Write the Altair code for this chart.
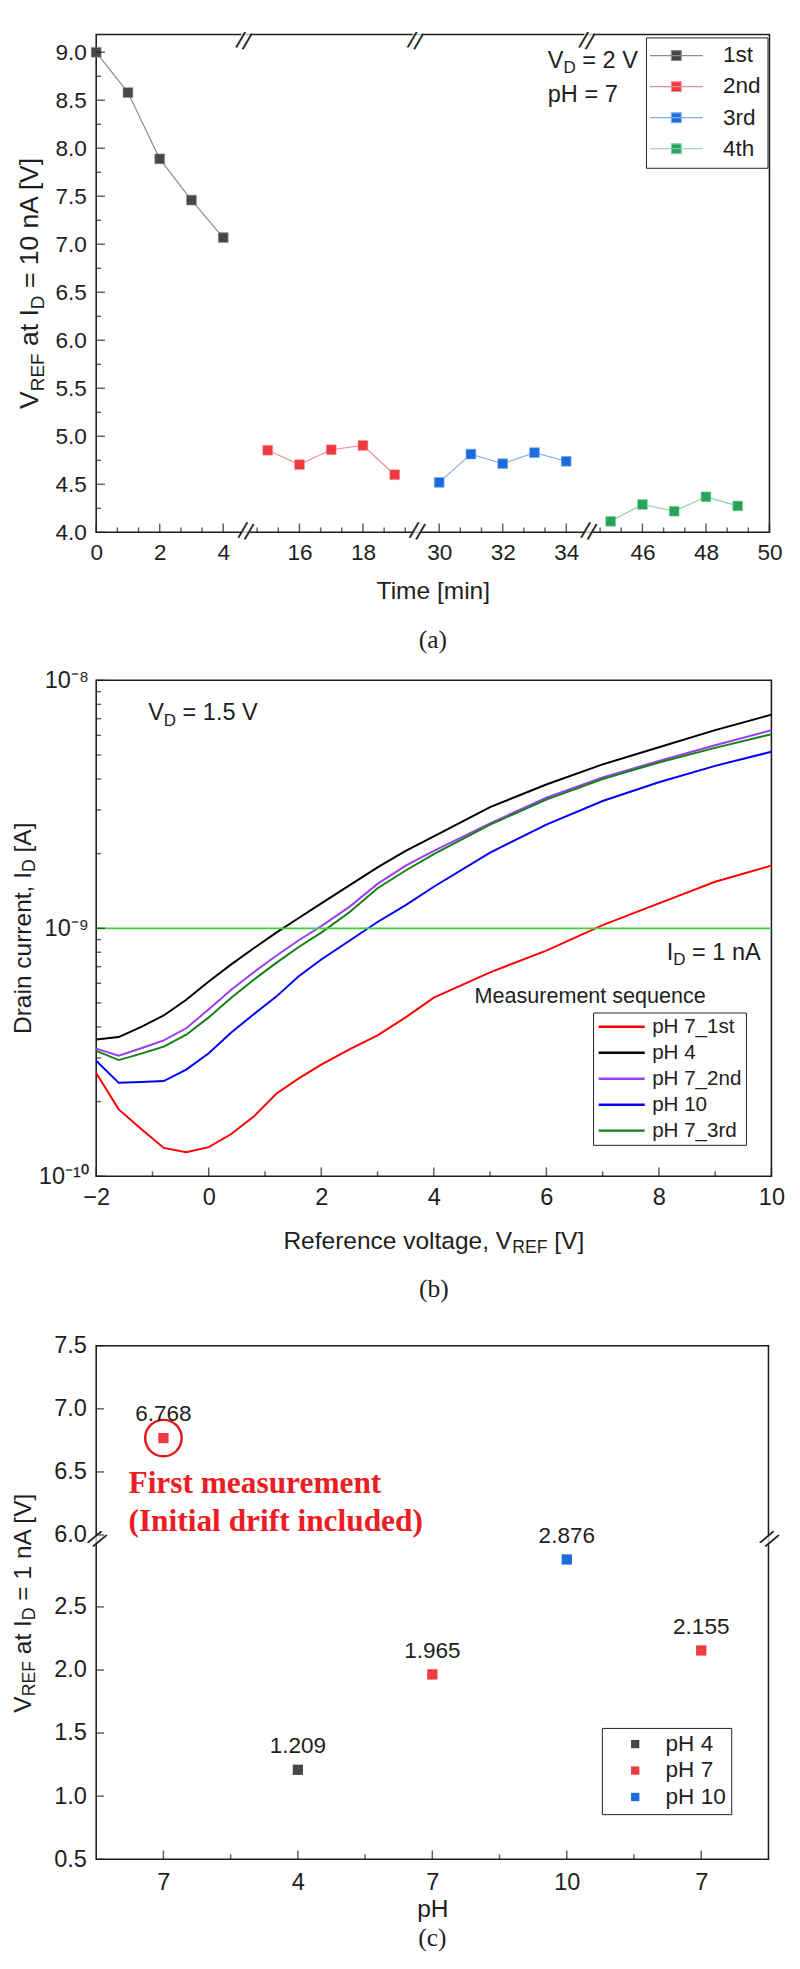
import altair as alt
import pandas as pd

SANS = "Liberation Sans"
SERIF = "Liberation Serif"
INK = "#1e1e1e"

# ================= (a) V_REF at 10 nA vs time =================
A_RUNS = ["1st", "2nd", "3rd", "4th"]
A_T_1ST = [0, 1, 2, 3, 4]
A_V_1ST = [9.00, 8.58, 7.89, 7.46, 7.07]
A_T_2ND = [15, 16, 17, 18, 19]
A_V_2ND = [4.855, 4.705, 4.86, 4.905, 4.60]
A_T_3RD = [30, 31, 32, 33, 34]
A_V_3RD = [4.52, 4.815, 4.715, 4.83, 4.74]
A_T_4TH = [45, 46, 47, 48, 49]
A_V_4TH = [4.115, 4.29, 4.22, 4.37, 4.275]
A_MARKER_COLORS = ["#474747", "#ee383d", "#1c6bdc", "#27a45c"]
A_LINE_COLORS = ["#8c8c8c", "#f08f92", "#82abeb", "#8acfa6"]
A_SEG_START = [0.0, 14.3, 29.3, 44.3]
A_SEG_END = [4.7, 19.7, 34.7, 50.0]
A_X_MAJOR = [0, 2, 4, 16, 18, 30, 32, 34, 46, 48, 50]
A_X_MINOR = [0.667, 1.333, 2.667, 3.333, 14.667, 15.333, 16.667, 17.333,
             18.667, 19.333, 30.667, 31.333, 32.667, 33.333, 44.667, 45.333,
             46.667, 47.333, 48.667, 49.333]
A_Y_MAJOR = [4.0, 4.5, 5.0, 5.5, 6.0, 6.5, 7.0, 7.5, 8.0, 8.5, 9.0]
A_Y_MINOR = [4.25, 4.75, 5.25, 5.75, 6.25, 6.75, 7.25, 7.75, 8.25, 8.75]
A_Y_DOMAIN = [4.0, 9.185]

# ================= (b) transfer curves =================
B_SERIES = ["pH 7_1st", "pH 4", "pH 7_2nd", "pH 10", "pH 7_3rd"]
B_COLORS = ["#ff0000", "#000000", "#9b3df2", "#0000ff", "#128012"]
B_V = [-2, -1.6, -1.2, -0.8, -0.4, 0, 0.4, 0.8, 1.2, 1.6, 2, 2.5, 3, 3.5, 4,
       5, 6, 7, 8, 9, 10]
B_PH7_1ST = [2.61e-10, 1.86e-10, 1.55e-10, 1.30e-10, 1.25e-10, 1.31e-10,
             1.48e-10, 1.74e-10, 2.15e-10, 2.48e-10, 2.82e-10, 3.25e-10,
             3.70e-10, 4.37e-10, 5.25e-10, 6.64e-10, 8.13e-10, 1.03e-9,
             1.26e-9, 1.54e-9, 1.79e-9]
B_PH4 = [3.56e-10, 3.64e-10, 4.00e-10, 4.45e-10, 5.15e-10, 6.10e-10,
         7.15e-10, 8.30e-10, 9.60e-10, 1.10e-9, 1.26e-9, 1.49e-9, 1.76e-9,
         2.05e-9, 2.35e-9, 3.08e-9, 3.80e-9, 4.58e-9, 5.37e-9, 6.30e-9,
         7.27e-9]
B_PH7_2ND = [3.27e-10, 3.06e-10, 3.28e-10, 3.53e-10, 3.95e-10, 4.71e-10,
             5.65e-10, 6.65e-10, 7.75e-10, 8.95e-10, 1.02e-9, 1.22e-9,
             1.51e-9, 1.79e-9, 2.05e-9, 2.65e-9, 3.36e-9, 4.06e-9, 4.73e-9,
             5.47e-9, 6.29e-9]
B_PH10 = [2.92e-10, 2.38e-10, 2.40e-10, 2.42e-10, 2.69e-10, 3.13e-10,
          3.80e-10, 4.50e-10, 5.30e-10, 6.40e-10, 7.48e-10, 8.90e-10,
          1.06e-9, 1.24e-9, 1.47e-9, 2.02e-9, 2.62e-9, 3.26e-9, 3.88e-9,
          4.52e-9, 5.15e-9]
B_PH7_3RD = [3.20e-10, 2.94e-10, 3.12e-10, 3.33e-10, 3.72e-10, 4.37e-10,
             5.25e-10, 6.20e-10, 7.25e-10, 8.40e-10, 9.60e-10, 1.16e-9,
             1.45e-9, 1.71e-9, 1.99e-9, 2.62e-9, 3.30e-9, 4.00e-9, 4.66e-9,
             5.34e-9, 6.06e-9]
B_TARGET = 1e-9
B_X_DOMAIN = [-2, 10]
B_Y_DOMAIN = [1e-10, 1e-8]
B_X_MAJOR = [-2, 0, 2, 4, 6, 8, 10]
B_X_MINOR = [-1, 1, 3, 5, 7, 9]
B_Y_MAJOR = [1e-10, 1e-9, 1e-8]
B_Y_LABELS = ["10\u207b\u00b9\u2070", "10\u207b\u2079", "10\u207b\u2078"]
B_Y_MINOR = [2e-10, 3e-10, 4e-10, 5e-10, 6e-10, 7e-10, 8e-10, 9e-10,
             2e-9, 3e-9, 4e-9, 5e-9, 6e-9, 7e-9, 8e-9, 9e-9]

# ================= (c) V_REF at 1 nA per pH step =================
C_SEQ = [1, 2, 3, 4, 5]
C_PH_LABEL = ["7", "4", "7", "10", "7"]
C_GROUP = ["pH 7", "pH 4", "pH 7", "pH 10", "pH 7"]
C_VREF = [6.768, 1.209, 1.965, 2.876, 2.155]
C_GROUPS = ["pH 4", "pH 7", "pH 10"]
C_COLORS = ["#474747", "#ef3a40", "#1c6bdc"]
C_HIGHLIGHT = 1
C_Y_LOWER = [0.5, 1.0, 1.5, 2.0, 2.5]
C_Y_UPPER = [6.0, 6.5, 7.0, 7.5]
C_BREAK_SHIFT = 2.93
C_BREAK_AT = 3.03
C_X_MINOR = [1.5, 2.5, 3.5, 4.5]

A_W, A_H = 687, 508
B_W, B_H = 689, 506
C_W, C_H = 686, 524

ONE = pd.DataFrame({"k": [0]})
AW = {" ": .278, "a": .556, "b": .556, "c": .5, "d": .556, "e": .556,
      "f": .278, "g": .556, "h": .556, "i": .222, "l": .222, "m": .833,
      "n": .556, "o": .556, "p": .556, "q": .556, "r": .333, "s": .5,
      "t": .278, "u": .556, "v": .5, "A": .667, "D": .722, "E": .667,
      "F": .611, "H": .722, "I": .278, "R": .722, "V": .667, ".": .278,
      ",": .278, "=": .584, "[": .278, "]": .278}


def text_w(s, size):
    return sum(AW.get(c, 0.556) for c in s) * size


def rich(segments, xd, yd, size, angle=0, base_dx=0.0, base_dy=0.0,
         align="center", color=INK):
    sub = round(size * 0.72, 1)
    total = sum(text_w(t, sub if s else size) for t, s in segments)
    cur = -total / 2 if align == "center" else 0.0
    out = []
    for t, s in segments:
        fs = sub if s else size
        lead = len(t) - len(t.lstrip(" "))
        trail = len(t) - len(t.rstrip(" "))
        core = t.strip(" ")
        cur += lead * AW[" "] * fs
        out.append(alt.Chart(ONE).mark_text(
            text=core, font=SANS, fontSize=fs, align="left", baseline="middle",
            angle=angle, dx=round(base_dx + cur, 2),
            dy=round(base_dy + (size * 0.3 if s else 0), 2), color=color
        ).encode(x=xd, y=yd))
        cur += text_w(core, fs) + trail * AW[" "] * fs
    return out


AX = dict(grid=False, domain=False, ticks=False, tickSize=0, labelFlush=False,
          labelOverlap=False, labelFont=SANS, labelColor=INK, titleFont=SANS,
          titleColor=INK, titleFontWeight="normal")


def caption(txt, off, spacer=0):
    kw = {}
    if spacer:
        kw = dict(subtitle="\u00a0", subtitleFontSize=10, subtitlePadding=spacer)
    return alt.TitleParams(txt, orient="bottom", font=SERIF, fontSize=26,
                           fontWeight="normal", color=INK, offset=off,
                           anchor="middle", **kw)


def r4(v):
    return round(v, 4)


def xticks(vals, length, xenc, ydatum, calc=None, field="t"):
    ch = alt.Chart(pd.DataFrame({field: vals}))
    if calc:
        ch = ch.transform_calculate(**calc)
    return ch.mark_tick(orient="vertical", size=length, thickness=1.5, color=INK,
                        yOffset=-length / 2).encode(x=xenc, y=alt.YDatum(ydatum))


def yticks(vals, length, yenc, xdatum, field, calc=None):
    ch = alt.Chart(pd.DataFrame({field: vals}))
    if calc:
        ch = ch.transform_calculate(**calc)
    return ch.mark_tick(orient="horizontal", size=length, thickness=1.5, color=INK,
                        xOffset=length / 2).encode(x=alt.XDatum(xdatum), y=yenc)


# ---------------- panel (a) ----------------
a_off = [0.0]
for i in range(1, len(A_SEG_START)):
    a_off.append(r4(a_off[-1] + A_SEG_START[i] - A_SEG_END[i - 1]))
a_breaks = [r4(A_SEG_END[i] - a_off[i]) for i in range(len(A_SEG_END) - 1)]
a_xmax = r4(A_SEG_END[-1] - a_off[-1])


def a_fwd(field):
    e = "0"
    for s, o in zip(A_SEG_START[1:], a_off[1:]):
        e = f"(datum.{field} >= {s} ? {o} : {e})"
    return f"datum.{field} - {e}"


def a_to_plot(t):
    o = 0.0
    for s, off in zip(A_SEG_START, a_off):
        if t >= s:
            o = off
    return r4(t - o)


a_inv = "0"
for b, o in zip(a_breaks, a_off[1:]):
    a_inv = f"(datum.value > {b} ? {o} : {a_inv})"
a_label_expr = f"format(datum.value + {a_inv}, 'd')"

a_df = pd.concat([pd.DataFrame({"t": T, "v": V, "run": r}) for T, V, r in zip(
    [A_T_1ST, A_T_2ND, A_T_3RD, A_T_4TH],
    [A_V_1ST, A_V_2ND, A_V_3RD, A_V_4TH], A_RUNS)], ignore_index=True)

a_x = alt.X("tx:Q", scale=alt.Scale(domain=[0, a_xmax], nice=False, zero=False),
            axis=alt.Axis(values=[a_to_plot(t) for t in A_X_MAJOR],
                          labelExpr=a_label_expr, title="Time [min]",
                          labelFontSize=23, titleFontSize=25, labelPadding=10,
                          titlePadding=15, **AX))
a_y = alt.Y("v:Q", scale=alt.Scale(domain=A_Y_DOMAIN, nice=False, zero=False),
            axis=alt.Axis(values=A_Y_MAJOR, format=".1f", title=None,
                          labelFontSize=23, labelPadding=10, **AX))

a_legend = alt.Legend(title=None, orient="none", legendX=561, legendY=3,
                      symbolType="M-2.7,0H2.7M-0.5,-0.5H0.5V0.5H-0.5Z",
                      symbolSize=400, symbolStrokeWidth=1.2, symbolOffset=12.5,
                      labelFont=SANS, labelFontSize=23, labelColor=INK,
                      labelOffset=36, padding=7, rowPadding=7.7,
                      strokeColor=INK, fillColor="white", labelLimit=0)
a_stroke = alt.Stroke("run:N", scale=alt.Scale(domain=A_RUNS, range=A_LINE_COLORS),
                      legend=a_legend)
a_fill = alt.Fill("run:N", scale=alt.Scale(domain=A_RUNS, range=A_MARKER_COLORS),
                  legend=a_legend)

a_base = alt.Chart(a_df).transform_calculate(tx=a_fwd("t"))
a_lines = a_base.mark_line(strokeWidth=1.2).encode(x=a_x, y=a_y, stroke=a_stroke)
a_pts = a_base.mark_point(shape="square", filled=True, size=100, opacity=1,
                          strokeWidth=0.6).encode(x=a_x, y=a_y, fill=a_fill,
                                                  stroke=a_stroke)

a_ticks = [
    xticks(A_X_MAJOR, 9, a_x, A_Y_DOMAIN[0], calc={"tx": a_fwd("t")}),
    xticks(A_X_MINOR, 5, a_x, A_Y_DOMAIN[0], calc={"tx": a_fwd("t")}),
    yticks(A_Y_MAJOR, 9, a_y, 0, "v"),
    yticks(A_Y_MINOR, 5, a_y, 0, "v"),
]
a_brk_df = pd.DataFrame({"tx": a_breaks})
a_brk = []
for yv, top in [(A_Y_DOMAIN[0], False), (A_Y_DOMAIN[1], True)]:
    a_brk.append(alt.Chart(a_brk_df).mark_tick(orient="horizontal", size=9, thickness=3,
                                               color="white").encode(x=a_x, y=alt.YDatum(yv)))
    a_brk.append(alt.Chart(a_brk_df).mark_text(
        text="//", font=SANS, fontSize=24, angle=15, color=INK,
        dy=8 if top else 0).encode(x=a_x, y=alt.YDatum(yv)))

a_notes = (rich([("V", False), ("D", True), (" = 2 V", False)], alt.XDatum(14.22),
                alt.YDatum(8.91), 24, align="left")
           + rich([("pH = 7", False)], alt.XDatum(14.22), alt.YDatum(8.555), 24, align="left")
           + rich([("V", False), ("REF", True), (" at I", False), ("D", True),
                   (" = 10 nA [V]", False)], alt.XDatum(0),
                  alt.YDatum(6.6), 27, angle=270, base_dy=-67))

chart_a = alt.layer(a_lines, a_pts, *a_ticks, *a_brk, *a_notes).properties(
    width=A_W, height=A_H, title=caption("(a)", 24))

# ---------------- panel (b) ----------------
b_df = pd.concat([pd.DataFrame({"V": B_V, "I": I, "series": s}) for I, s in zip(
    [B_PH7_1ST, B_PH4, B_PH7_2ND, B_PH10, B_PH7_3RD], B_SERIES)], ignore_index=True)

b_label_expr = "'" + B_Y_LABELS[-1] + "'"
for val, lab in reversed(list(zip(B_Y_MAJOR[:-1], B_Y_LABELS[:-1]))):
    b_label_expr = f"datum.value < {val * 3:g} ? '{lab}' : ({b_label_expr})"

b_x = alt.X("V:Q", scale=alt.Scale(domain=B_X_DOMAIN, nice=False, zero=False),
            axis=alt.Axis(values=B_X_MAJOR, format="d", title=None,
                          labelFontSize=24, labelPadding=10, **AX))
b_y = alt.Y("I:Q", scale=alt.Scale(type="log", domain=B_Y_DOMAIN, nice=False),
            axis=alt.Axis(values=B_Y_MAJOR, labelExpr=b_label_expr, title=None,
                          labelFontSize=24, labelPadding=8, **AX))
b_legend = alt.Legend(title=None, orient="none", legendX=507, legendY=339,
                      symbolType="M-3,0H3", symbolSize=245, symbolStrokeWidth=2.5,
                      symbolOffset=14.7, labelFont=SANS, labelFontSize=21,
                      labelColor=INK, labelOffset=20.6, padding=4, rowPadding=4.5,
                      strokeColor=INK, fillColor="white", labelLimit=0)
b_lines = alt.Chart(b_df).mark_line(strokeWidth=2).encode(
    x=b_x, y=b_y,
    stroke=alt.Stroke("series:N", scale=alt.Scale(domain=B_SERIES, range=B_COLORS),
                      legend=b_legend))
b_rule = alt.Chart(ONE).mark_rule(color="#3fd13f", strokeWidth=1.8).encode(
    y=alt.YDatum(B_TARGET))
b_ticks = [
    xticks(B_X_MAJOR, 9, b_x, B_Y_DOMAIN[0], field="V"),
    xticks(B_X_MINOR, 5, b_x, B_Y_DOMAIN[0], field="V"),
    yticks(B_Y_MAJOR, 9, b_y, B_X_DOMAIN[0], "I"),
    yticks(B_Y_MINOR, 5, b_y, B_X_DOMAIN[0], "I"),
]
b_notes = (rich([("V", False), ("D", True), (" = 1.5 V", False)], alt.XDatum(-1.077),
                alt.YDatum(7.34e-9), 24, align="left")
           + rich([("I", False), ("D", True), (" = 1 nA", False)], alt.XDatum(8.14),
                  alt.YDatum(7.96e-10), 24, align="left")
           + rich([("Measurement sequence", False)], alt.XDatum(4.725),
                  alt.YDatum(5.33e-10), 22, align="left")
           + rich([("Drain current, I", False), ("D", True), (" [A]", False)],
                  alt.XDatum(B_X_DOMAIN[0]), alt.YDatum(1e-9), 25, angle=270,
                  base_dy=-75)
           + rich([("Reference voltage, V", False), ("REF", True), (" [V]", False)],
                  alt.XDatum(4), alt.YDatum(B_Y_DOMAIN[0]), 25, base_dy=66))

chart_b = alt.layer(b_lines, b_rule, *b_ticks, *b_notes).properties(
    width=B_W, height=B_H, title=caption("(b)", 20, spacer=6))

# ---------------- panel (c) ----------------
c_df = pd.DataFrame({"seq": C_SEQ, "grp": C_GROUP, "v": C_VREF})
c_calc = {"yp": f"datum.v > 4 ? datum.v - {C_BREAK_SHIFT} : datum.v"}
c_ymax = r4(C_Y_UPPER[-1] - C_BREAK_SHIFT)
c_yvals = C_Y_LOWER + [r4(u - C_BREAK_SHIFT) for u in C_Y_UPPER]
c_xlab = "[" + ",".join(f"'{s}'" for s in C_PH_LABEL) + "][datum.value - 1]"

c_x = alt.X("seq:Q", scale=alt.Scale(domain=[0.5, 5.5], nice=False, zero=False),
            axis=alt.Axis(values=C_SEQ, labelExpr=c_xlab, title="pH",
                          labelFontSize=24, titleFontSize=25, labelPadding=12,
                          titlePadding=2, **AX))
c_y = alt.Y("yp:Q", scale=alt.Scale(domain=[C_Y_LOWER[0], c_ymax], nice=False, zero=False),
            axis=alt.Axis(values=c_yvals,
                          labelExpr=f"format(datum.value > {C_BREAK_AT} ? datum.value + {C_BREAK_SHIFT} : datum.value, '.1f')",
                          title=None, labelFontSize=24, labelPadding=10, **AX))
c_legend = alt.Legend(title=None, orient="none", legendX=516, legendY=390,
                      symbolType="square", symbolSize=72, symbolOffset=17.5,
                      labelFont=SANS, labelFontSize=23, labelColor=INK,
                      labelOffset=19.5, padding=5, rowPadding=3, strokeColor=INK,
                      fillColor="white", labelLimit=0)
c_base = alt.Chart(c_df).transform_calculate(**c_calc)
c_pts = c_base.mark_point(shape="square", filled=True, size=110, opacity=1).encode(
    x=c_x, y=c_y,
    fill=alt.Fill("grp:N", scale=alt.Scale(domain=C_GROUPS, range=C_COLORS),
                  legend=c_legend))
c_lab = c_base.mark_text(dy=-24, font=SANS, fontSize=23, color=INK).encode(
    x=c_x, y=c_y, text=alt.Text("v:Q", format=".3f"))
c_ring = c_base.transform_filter(f"datum.seq == {C_HIGHLIGHT}").mark_point(
    shape="circle", size=1385, filled=False, stroke="#e8141c", strokeWidth=2.5,
    opacity=1).encode(x=c_x, y=c_y)
c_ticks = [
    xticks(C_SEQ, 9, c_x, C_Y_LOWER[0], field="seq"),
    xticks(C_X_MINOR, 5, c_x, C_Y_LOWER[0], field="seq"),
    yticks(c_yvals, 8, c_y, 0.5, "yp"),
]
c_brk = []
for xv in [0.5, 5.5]:
    c_brk.append(alt.Chart(ONE).mark_tick(orient="vertical", size=9, thickness=4,
                                          color="white").encode(x=alt.XDatum(xv),
                                                                y=alt.YDatum(C_BREAK_AT)))
    c_brk.append(alt.Chart(ONE).mark_text(text="//", font=SANS, fontSize=24, angle=35,
                                          color=INK).encode(x=alt.XDatum(xv),
                                                            y=alt.YDatum(C_BREAK_AT)))
c_notes = [
    alt.Chart(ONE).mark_text(text="First measurement", font=SERIF, fontSize=32,
                             fontWeight="bold", color="#ec1c24", align="left",
                             baseline="middle").encode(x=alt.XDatum(0.74), y=alt.YDatum(3.48)),
    alt.Chart(ONE).mark_text(text="(Initial drift included)", font=SERIF, fontSize=32,
                             fontWeight="bold", color="#ec1c24", align="left",
                             baseline="middle").encode(x=alt.XDatum(0.74), y=alt.YDatum(3.177)),
] + rich([("V", False), ("REF", True), (" at I", False), ("D", True),
          (" = 1 nA [V]", False)], alt.XDatum(0.5),
         alt.YDatum((C_Y_LOWER[0] + c_ymax) / 2), 25, angle=270, base_dy=-75)

chart_c = alt.layer(c_pts, c_ring, c_lab, *c_ticks, *c_brk, *c_notes).properties(
    width=C_W, height=C_H, title=caption("(c)", 5))

chart = (alt.vconcat(chart_a, chart_b, chart_c, spacing=14)
         .resolve_scale(x="independent", y="independent", fill="independent",
                        stroke="independent")
         .resolve_legend(fill="independent", stroke="independent")
         .properties(padding={"left": 2, "top": 0, "right": 6, "bottom": 0},
                     background="white")
         .configure_view(stroke=INK, strokeWidth=1.6)
         .configure_axis(grid=False))

chart.save("out.html", embed_options={"renderer": "svg", "actions": False})
